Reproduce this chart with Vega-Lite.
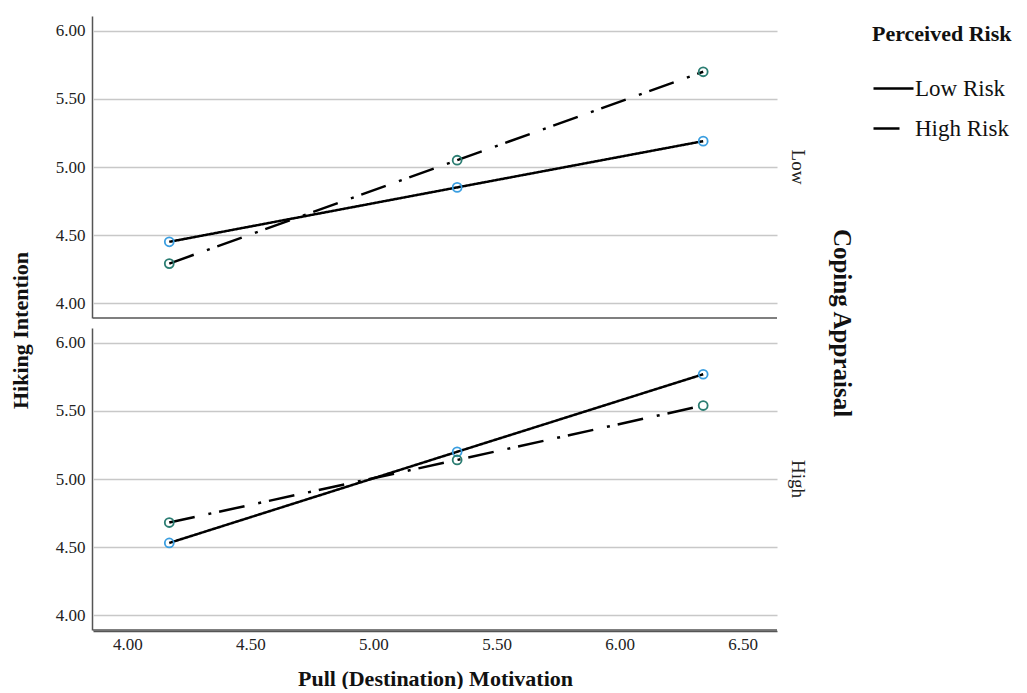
{
  "$schema": "https://vega.github.io/schema/vega-lite/v6.json",
  "background": "white",
  "padding": {"left": 10, "top": 16, "right": 0, "bottom": 0},
  "title": {"text": "Hiking Intention", "orient": "left", "anchor": "middle", "font": "Liberation Serif", "fontSize": 22, "fontWeight": "bold", "color": "#111", "offset": 22, "dx": 22},
  "data": {"values": [
    {"coping": "Low", "risk": "Low Risk", "pull": 4.17, "intention": 4.45},
    {"coping": "Low", "risk": "Low Risk", "pull": 5.34, "intention": 4.85},
    {"coping": "Low", "risk": "Low Risk", "pull": 6.34, "intention": 5.19},
    {"coping": "Low", "risk": "High Risk", "pull": 4.17, "intention": 4.29},
    {"coping": "Low", "risk": "High Risk", "pull": 5.34, "intention": 5.05},
    {"coping": "Low", "risk": "High Risk", "pull": 6.34, "intention": 5.70},
    {"coping": "High", "risk": "Low Risk", "pull": 4.17, "intention": 4.53},
    {"coping": "High", "risk": "Low Risk", "pull": 5.34, "intention": 5.20},
    {"coping": "High", "risk": "Low Risk", "pull": 6.34, "intention": 5.77},
    {"coping": "High", "risk": "High Risk", "pull": 4.17, "intention": 4.68},
    {"coping": "High", "risk": "High Risk", "pull": 5.34, "intention": 5.14},
    {"coping": "High", "risk": "High Risk", "pull": 6.34, "intention": 5.54}
  ]},
  "facet": {
    "row": {
      "field": "coping", "type": "nominal", "sort": ["Low", "High"],
      "title": "Coping Appraisal",
      "header": {
        "labelOrient": "right", "labelAngle": 90, "labelFont": "Liberation Serif", "labelFontSize": 19, "labelColor": "#222", "labelPadding": 10,
        "titleOrient": "right", "titleAngle": 90, "titleFont": "Liberation Serif", "titleFontSize": 25, "titleFontWeight": "bold", "titleColor": "#111", "titlePadding": 12
      }
    }
  },
  "spacing": 9,
  "spec": {
    "width": 684,
    "height": 302,
    "layer": [
      {
        "transform": [{"aggregate": [{"op": "count", "as": "n"}], "groupby": ["coping"]}],
        "mark": {"type": "rule", "color": "#555", "strokeWidth": 1.5},
        "encoding": {"y": {"datum": 3.89, "scale": {"domain": [3.89, 6.11], "nice": false, "zero": false}}}
      },
      {
        "mark": {"type": "line", "color": "black", "strokeWidth": 2.5},
        "encoding": {
          "x": {"field": "pull", "type": "quantitative", "scale": {"domain": [3.86, 6.64], "nice": false, "zero": false},
                "axis": {"title": "Pull (Destination) Motivation", "values": [4, 4.5, 5, 5.5, 6, 6.5], "format": ".2f", "grid": false, "ticks": false, "labelPadding": 5, "titlePadding": 16}},
          "y": {"field": "intention", "type": "quantitative", "scale": {"domain": [3.89, 6.11], "nice": false, "zero": false},
                "axis": {"title": null, "values": [4, 4.5, 5, 5.5, 6], "format": ".2f", "grid": true, "ticks": false, "labelPadding": 7}},
          "strokeDash": {"field": "risk", "type": "nominal",
                "scale": {"domain": ["Low Risk", "High Risk"], "range": [[1, 0], [26, 14, 3, 8]]},
                "legend": {"title": "Perceived Risk", "symbolType": "stroke", "symbolSize": 1600, "symbolStrokeWidth": 2.5, "symbolStrokeColor": "black"}}
        }
      },
      {
        "transform": [{"filter": "datum.risk === 'Low Risk'"}],
        "mark": {"type": "point", "shape": "circle", "filled": false, "size": 80, "strokeWidth": 1.8, "opacity": 1, "color": "#3a9ee0"},
        "encoding": {
          "x": {"field": "pull", "type": "quantitative"},
          "y": {"field": "intention", "type": "quantitative"}
        }
      },
      {
        "transform": [{"filter": "datum.risk === 'High Risk'"}],
        "mark": {"type": "point", "shape": "circle", "filled": false, "size": 80, "strokeWidth": 1.8, "opacity": 1, "color": "#2b7d72"},
        "encoding": {
          "x": {"field": "pull", "type": "quantitative"},
          "y": {"field": "intention", "type": "quantitative"}
        }
      }
    ]
  },
  "config": {
    "view": {"stroke": null},
    "axis": {
      "labelFont": "Liberation Serif", "labelFontSize": 17, "labelColor": "#222",
      "titleFont": "Liberation Serif", "titleFontSize": 22, "titleFontWeight": "bold", "titleColor": "#111",
      "domainColor": "#555", "domainWidth": 1.5, "gridColor": "#c8c8c8", "gridWidth": 1.5
    },
    "legend": {
      "titleFont": "Liberation Serif", "titleFontSize": 22, "titleFontWeight": "bold", "titleColor": "#111", "titlePadding": 21,
      "labelFont": "Liberation Serif", "labelFontSize": 23, "labelColor": "#111", "labelOffset": 0,
      "rowPadding": 6, "padding": 8, "offset": 10
    }
  }
}
